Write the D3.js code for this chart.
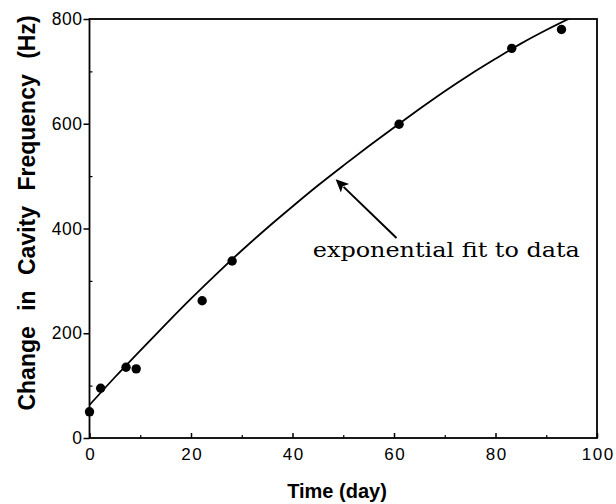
<!DOCTYPE html>
<html><head><meta charset="utf-8">
<script src="https://cdn.jsdelivr.net/npm/d3@7"></script>
<style>body{margin:0;background:#fff}</style>
</head><body>
<script>
// Measured data points
const pointDays = [0, 2.2, 7.2, 9.2, 22.2, 28.1, 61, 83.2, 93];
const pointValues = [50, 95, 135, 132, 262, 338, 599, 744, 780];
// Fit curve
const fitDays = [0, 5, 10, 15, 20, 25, 30, 35, 40, 45, 50, 55, 60, 65, 70, 75, 80, 85, 90, 95];
const fitValues = [63, 116, 167, 217, 266, 313, 358, 401, 442, 482, 520, 557, 593, 628, 662, 694, 724, 753, 779, 803];
const xTicks = [0, 20, 40, 60, 80, 100];
const xMinor = [10, 30, 50, 70, 90];
const yTicks = [0, 200, 400, 600, 800];
const yMinor = [100, 300, 500, 700];
const annotation = {text: "exponential fit to data", tip: [48.5, 494], tail: [60.5, 382], label: [44, 345]};

const W = 616, H = 504;
const m = {l: 89.5, r: 19, t: 19, b: 66};
const svg = d3.select("body").append("svg").attr("width", W).attr("height", H);
const x = d3.scaleLinear().domain([0, 100]).range([m.l, W - m.r]);
const y = d3.scaleLinear().domain([0, 800]).range([H - m.b, m.t]);

svg.append("defs").append("clipPath").attr("id", "clip")
  .append("rect").attr("x", x(0)).attr("y", y(800)).attr("width", x(100) - x(0)).attr("height", y(0) - y(800));

// frame
svg.append("rect").attr("x", x(0)).attr("y", y(800)).attr("width", x(100) - x(0)).attr("height", y(0) - y(800))
  .attr("fill", "none").attr("stroke", "#000").attr("stroke-width", 1.8);

// x axis
const xa = svg.append("g").attr("transform", `translate(0,${y(0)})`)
  .call(d3.axisBottom(x).tickValues(xTicks).tickSize(-5).tickPadding(10).tickFormat(d3.format("d")));
xa.select(".domain").remove();
xa.selectAll("line").attr("stroke-width", 1.5);
xa.selectAll("text").attr("font-family", "Liberation Sans, Arial, sans-serif").attr("font-size", 17)
  .attr("letter-spacing", 1.5).attr("dx", 0.75).attr("fill", "#000");
const xm = svg.append("g").attr("transform", `translate(0,${y(0)})`)
  .call(d3.axisBottom(x).tickValues(xMinor).tickSize(-3).tickFormat(""));
xm.select(".domain").remove();
xm.selectAll("line").attr("stroke-width", 1.2);

// y axis
const ya = svg.append("g").attr("transform", `translate(${x(0)},0)`)
  .call(d3.axisLeft(y).tickValues(yTicks).tickSize(6).tickPadding(1).tickFormat(d3.format("d")));
ya.select(".domain").remove();
ya.selectAll("line").attr("stroke-width", 1.5);
ya.selectAll("text").attr("font-family", "Liberation Sans, Arial, sans-serif").attr("font-size", 17.5)
  .attr("letter-spacing", 0.5).attr("fill", "#000");
const ym = svg.append("g").attr("transform", `translate(${x(0)},0)`)
  .call(d3.axisLeft(y).tickValues(yMinor).tickSize(-3).tickFormat(""));
ym.select(".domain").remove();
ym.selectAll("line").attr("stroke-width", 1.2);

// axis titles
svg.append("text").attr("x", 337).attr("y", 498).attr("text-anchor", "middle")
  .attr("font-family", "Liberation Sans, Arial, sans-serif").attr("font-weight", "bold").attr("font-size", 20)
  .text("Time (day)");
svg.append("text").attr("transform", `translate(35,213) rotate(-90)`).attr("text-anchor", "middle")
  .attr("font-family", "Liberation Sans, Arial, sans-serif").attr("font-weight", "bold").attr("font-size", 23)
  .attr("word-spacing", 9)
  .text("Change in Cavity Frequency (Hz)");

// fit curve
const fit = fitDays.map((d, i) => [d, fitValues[i]]);
svg.append("path").datum(fit).attr("clip-path", "url(#clip)")
  .attr("d", d3.line().x(d => x(d[0])).y(d => y(d[1])).curve(d3.curveMonotoneX))
  .attr("fill", "none").attr("stroke", "#000").attr("stroke-width", 1.8);

// points
svg.append("g").selectAll("circle").data(pointDays.map((d, i) => [d, pointValues[i]])).join("circle")
  .attr("cx", d => x(d[0])).attr("cy", d => y(d[1])).attr("r", 4.7).attr("fill", "#000");

// annotation arrow
const tx = x(annotation.tip[0]), ty = y(annotation.tip[1]);
const sx = x(annotation.tail[0]), sy = y(annotation.tail[1]);
const ang = Math.atan2(ty - sy, tx - sx);
const L = 13, Wd = 6;
const bx = tx - L * Math.cos(ang), by = ty - L * Math.sin(ang);
svg.append("line").attr("x1", sx).attr("y1", sy).attr("x2", bx + 2 * Math.cos(ang)).attr("y2", by + 2 * Math.sin(ang))
  .attr("stroke", "#000").attr("stroke-width", 2);
svg.append("path").attr("d", `M${tx},${ty}L${bx - Wd * Math.sin(ang)},${by + Wd * Math.cos(ang)}L${bx + 3 * Math.cos(ang)},${by + 3 * Math.sin(ang)}L${bx + Wd * Math.sin(ang)},${by - Wd * Math.cos(ang)}Z`)
  .attr("fill", "#000");
svg.append("text").attr("x", x(annotation.label[0])).attr("y", y(annotation.label[1]))
  .attr("font-family", "DejaVu Serif, serif").attr("font-size", 19.5)
  .attr("textLength", 267).attr("lengthAdjust", "spacingAndGlyphs")
  .text(annotation.text);
</script>
</body></html>
